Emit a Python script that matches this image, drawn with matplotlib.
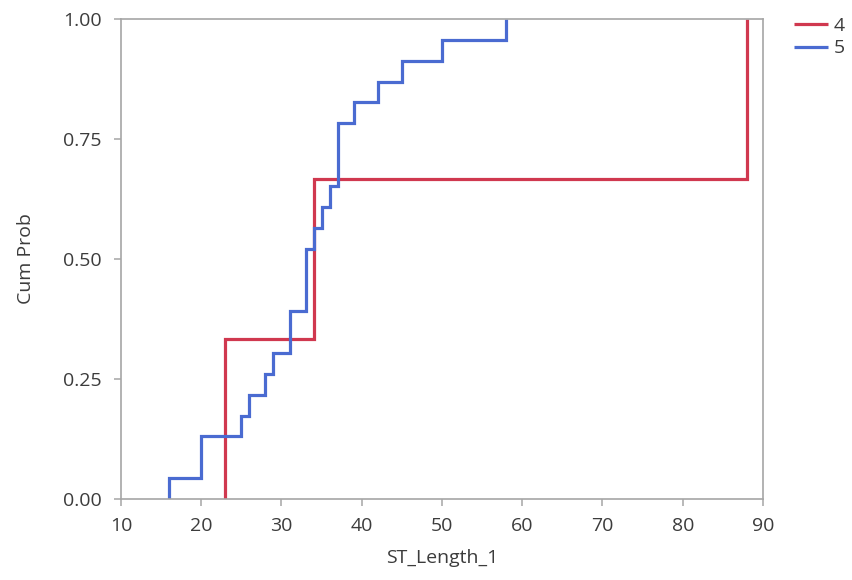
import numpy as np
import matplotlib
matplotlib.use("Agg")
import matplotlib.pyplot as plt
from matplotlib.ticker import FormatStrFormatter

plt.rcParams['font.family'] = ['Open Sans', 'DejaVu Sans']

# ST_Length_1 observations per group
group_labels = ["4", "5"]
group4 = [23, 34, 88]
group5 = [16, 20, 20, 25, 26, 28, 29, 31, 31, 33, 33, 33, 34, 35, 36,
          37, 37, 37, 39, 42, 45, 50, 58]
group_colors = ["#d0384f", "#4a6bd1"]

x_ticks = [10, 20, 30, 40, 50, 60, 70, 80, 90]
y_ticks = [0.0, 0.25, 0.5, 0.75, 1.0]

fig = plt.figure(figsize=(8.53, 5.80), dpi=100)
ax = fig.add_axes([121 / 853, 81 / 580, 642 / 853, 480 / 580])


def ecdf_path(values):
    ux, counts = np.unique(np.asarray(values), return_counts=True)
    cp = np.cumsum(counts) / counts.sum()
    xs = np.append(ux, ux[-1])
    ys = np.insert(cp, 0, 0.0)
    return xs, ys


for label, vals, col in zip(group_labels, [group4, group5], group_colors):
    xs, ys = ecdf_path(vals)
    ax.step(xs, ys, where="pre", color=col, lw=2.3, label=label,
            solid_joinstyle="miter", solid_capstyle="butt")

ax.set_xlim(10, 90)
ax.set_ylim(0, 1)
ax.set_xticks(x_ticks)
ax.set_yticks(y_ticks)
ax.yaxis.set_major_formatter(FormatStrFormatter("%.2f"))

frame_col = "#a6a6a6"
text_col = "#3c3c3c"
for sp in ax.spines.values():
    sp.set_color(frame_col)
    sp.set_linewidth(1.2)
ax.tick_params(direction="out", length=5, width=1.1, color=frame_col,
               labelcolor=text_col, labelsize=14)
ax.tick_params(axis="x", pad=8)
ax.tick_params(axis="y", pad=9)

ax.set_xlabel("ST_Length_1", fontsize=14, color=text_col, labelpad=10)
ax.set_ylabel("Cum Prob", fontsize=14, color=text_col, labelpad=20)

leg = ax.legend(loc="upper left", bbox_to_anchor=(780 / 853, 1 - 3 / 580),
                bbox_transform=fig.transFigure, frameon=False, fontsize=14,
                handlelength=1.75, handletextpad=0.3, labelspacing=0.25,
                borderpad=0.2)
for t in leg.get_texts():
    t.set_color(text_col)

fig.savefig("out.png", dpi=100)
